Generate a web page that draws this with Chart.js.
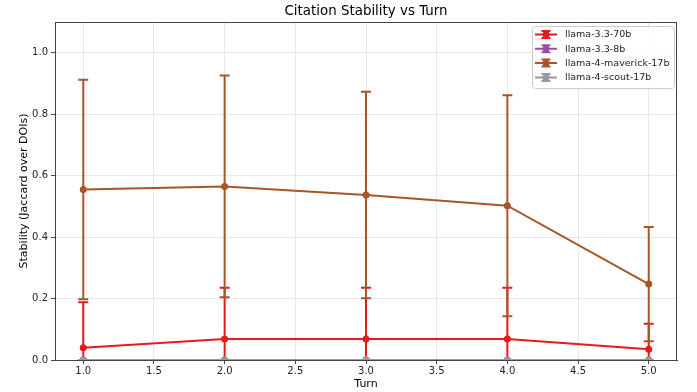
<!DOCTYPE html>
<html>
<head>
<meta charset="utf-8">
<script src="https://cdn.jsdelivr.net/npm/chart.js@4"></script>
<style>
  html, body { margin: 0; padding: 0; background: #fff; }
  #wrap { width: 697px; height: 392px; }
</style>
</head>
<body>
<div id="wrap"><canvas id="c" width="697" height="392"></canvas></div>
<script>
// ---- data ----
const turns = [1, 2, 3, 4, 5];
const seriesNames = ['llama-3.3-70b', 'llama-3.3-8b', 'llama-4-maverick-17b', 'llama-4-scout-17b'];
const seriesColors = ['#e41a1c', '#984ea3', '#a65628', '#999999'];
const mean70b = [0.040, 0.068, 0.068, 0.068, 0.035];
const err70b  = [0.148, 0.167, 0.167, 0.167, 0.083];
const mean8b  = [0, 0, 0, 0, 0];
const err8b   = [0, 0, 0, 0, 0];
const meanMaverick = [0.555, 0.565, 0.537, 0.502, 0.247];
const errMaverick  = [0.357, 0.361, 0.336, 0.360, 0.186];
const meanScout = [0, 0, 0, 0, 0];
const errScout  = [0, 0, 0, 0, 0];
const xTicks = [1.0, 1.5, 2.0, 2.5, 3.0, 3.5, 4.0, 4.5, 5.0];
const yTicks = [0.0, 0.2, 0.4, 0.6, 0.8, 1.0];
const titleText = 'Citation Stability vs Turn';
const xLabel = 'Turn';
const yLabel = 'Stability (Jaccard over DOIs)';

const means = [mean70b, mean8b, meanMaverick, meanScout];
const errs = [err70b, err8b, errMaverick, errScout];

const FONT = "'DejaVu Sans', sans-serif";

const datasets = seriesNames.map((name, i) => ({
  label: name,
  data: turns.map((t, j) => ({ x: t, y: means[i][j] })),
  errors: errs[i],
  borderColor: seriesColors[i],
  backgroundColor: seriesColors[i],
  borderWidth: 2,
  pointRadius: 3.5,
  pointHoverRadius: 3.5,
  pointBorderWidth: 0,
  tension: 0,
  clip: 0,
  order: seriesNames.length - i
}));

const errorBarPlugin = {
  id: 'errorBars',
  beforeDatasetDraw(chart, args) {
    const ds = chart.data.datasets[args.index];
    const xs = chart.scales.x, ys = chart.scales.y;
    const ctx = chart.ctx, ca = chart.chartArea;
    ctx.save();
    ctx.beginPath();
    ctx.rect(ca.left, ca.top, ca.right - ca.left, ca.bottom - ca.top);
    ctx.clip();
    ctx.strokeStyle = ds.borderColor;
    ctx.lineWidth = 2;
    ds.data.forEach((p, j) => {
      const e = ds.errors[j];
      const px = xs.getPixelForValue(p.x);
      const yt = ys.getPixelForValue(p.y + e);
      const yb = ys.getPixelForValue(p.y - e);
      ctx.beginPath();
      ctx.moveTo(px, yt); ctx.lineTo(px, yb);
      ctx.moveTo(px - 5, yt); ctx.lineTo(px + 5, yt);
      ctx.moveTo(px - 5, yb); ctx.lineTo(px + 5, yb);
      ctx.stroke();
    });
    ctx.restore();
  }
};

const framePlugin = {
  id: 'frame',
  afterDraw(chart) {
    const ctx = chart.ctx, ca = chart.chartArea;
    ctx.save();
    // spines
    ctx.strokeStyle = '#444';
    ctx.lineWidth = 1;
    ctx.strokeRect(Math.round(ca.left) + 0.5, Math.round(ca.top) + 0.5,
                   Math.round(ca.right - ca.left) - 1, Math.round(ca.bottom - ca.top));
    // title
    ctx.fillStyle = '#000';
    ctx.font = '13.4px ' + FONT;
    ctx.textAlign = 'center';
    ctx.textBaseline = 'middle';
    ctx.fillText(titleText, (ca.left + ca.right) / 2, 12);
    // legend
    const lx = 532, ly = 26, lw = 142, lh = 62;
    ctx.fillStyle = 'rgba(255,255,255,0.8)';
    ctx.strokeStyle = '#cccccc';
    ctx.lineWidth = 1;
    ctx.beginPath();
    if (ctx.roundRect) ctx.roundRect(lx + 0.5, ly + 0.5, lw, lh, 3); else ctx.rect(lx + 0.5, ly + 0.5, lw, lh);
    ctx.fill(); ctx.stroke();
    ctx.font = '9.5px ' + FONT;
    ctx.textAlign = 'left';
    chart.data.datasets.forEach((ds, i) => {
      const cy = 34.5 + i * 14.3;
      const cx = 546;
      ctx.strokeStyle = ds.borderColor;
      ctx.fillStyle = ds.borderColor;
      ctx.lineWidth = 2;
      ctx.beginPath();
      ctx.moveTo(535, cy); ctx.lineTo(557, cy);
      ctx.moveTo(cx, cy - 3.5); ctx.lineTo(cx, cy + 3.5);
      ctx.moveTo(cx - 4.5, cy - 3.5); ctx.lineTo(cx + 4.5, cy - 3.5);
      ctx.moveTo(cx - 4.5, cy + 3.5); ctx.lineTo(cx + 4.5, cy + 3.5);
      ctx.stroke();
      ctx.beginPath();
      ctx.arc(cx, cy, 3.5, 0, Math.PI * 2);
      ctx.fill();
      ctx.fillStyle = '#222';
      ctx.fillText(ds.label, 565, cy + 0.5);
    });
    ctx.restore();
  }
};

new Chart(document.getElementById('c'), {
  type: 'line',
  data: { datasets },
  plugins: [errorBarPlugin, framePlugin],
  options: {
    responsive: false,
    animation: false,
    devicePixelRatio: 1,
    layout: { padding: { top: 22, right: 20, left: 0, bottom: 0 } },
    plugins: { legend: { display: false }, title: { display: false }, tooltip: { enabled: false } },
    scales: {
      x: {
        type: 'linear',
        min: 0.8, max: 5.2,
        afterBuildTicks: s => { s.ticks = xTicks.map(v => ({ value: v })); },
        afterFit: s => { s.height = 32; },
        ticks: { color: '#222', font: { family: FONT, size: 10 }, padding: 1,
                 callback: v => Number(v).toFixed(1), maxRotation: 0, autoSkip: false },
        grid: { color: 'rgba(0,0,0,0.09)', lineWidth: 1, tickColor: '#444', tickLength: 4, drawTicks: true },
        border: { display: true, color: '#444', width: 1 },
        title: { display: true, text: xLabel, color: '#000', font: { family: FONT, size: 11 }, padding: { top: 0, bottom: 1 } }
      },
      y: {
        type: 'linear',
        min: 0, max: 1.1,
        afterBuildTicks: s => { s.ticks = yTicks.map(v => ({ value: v })); },
        afterFit: s => { s.width = 55; },
        ticks: { color: '#222', font: { family: FONT, size: 10 }, padding: 3,
                 callback: v => Number(v).toFixed(1), autoSkip: false },
        grid: { color: 'rgba(0,0,0,0.09)', lineWidth: 1, tickColor: '#444', tickLength: 4, drawTicks: true },
        border: { display: true, color: '#444', width: 1 },
        title: { display: true, text: yLabel, color: '#000', font: { family: FONT, size: 11 }, padding: { top: 18, bottom: 0 } }
      }
    }
  }
});
</script>
</body>
</html>
